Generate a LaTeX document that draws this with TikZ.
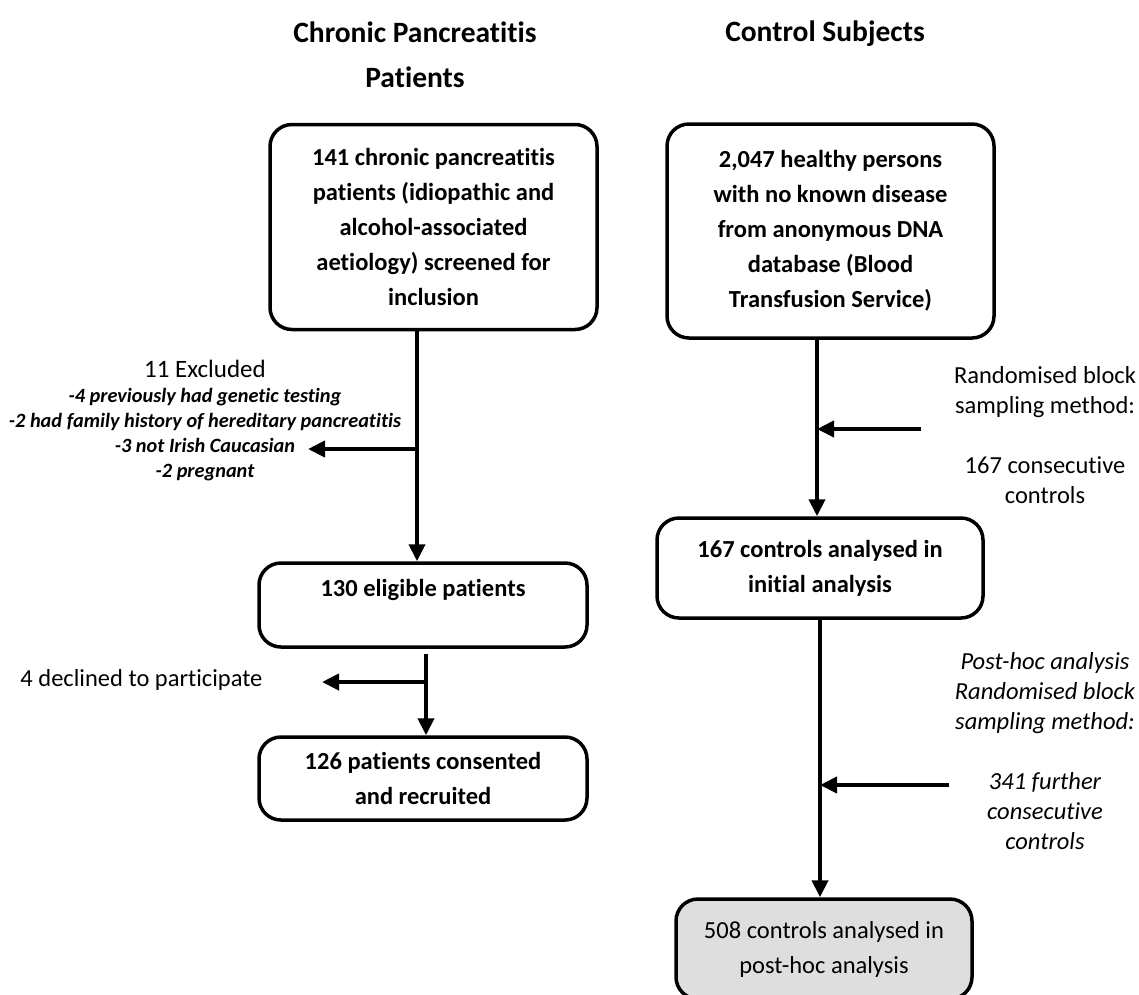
\documentclass[tikz,border=0pt]{standalone}
\usepackage{fontspec}
\setmainfont{Carlito}[Ligatures=NoCommon]
\usetikzlibrary{arrows.meta,calc}
\tikzset{
	stagebox/.style={draw, line width=3.5pt, rounded corners=22pt, align=center,
			inner sep=0pt, font=\bfseries\fontsize{24.5}{35}\selectfont},
	flow/.style={line width=4pt, -{Triangle[length=17pt,width=16pt]}},
	heading/.style={align=center, font=\bfseries\fontsize{29.5}{45}\selectfont},
	note/.style={align=center, font=\fontsize{24.5}{30}\selectfont}
}

\begin{document}
\begin{tikzpicture}[x=1pt,y=-1pt]
	\useasboundingbox (0,0) rectangle (1139,994);

	% column headings
	\node[heading] (hcp) at (415,55) {Chronic Pancreatitis\\Patients};
	\node[heading] (hcs) at (825,34) {Control Subjects};

	% patients
	\node[stagebox, minimum width=327pt, minimum height=205pt] (cp) at (433.5,227)
		{141 chronic pancreatitis\\patients (idiopathic and\\alcohol-associated\\aetiology) screened for\\inclusion};
	\node[stagebox, minimum width=328pt, minimum height=84pt] (elig) at (423,605)
		{130 eligible patients\\\mbox{}};
	\node[stagebox, minimum width=328pt, minimum height=83pt] (recr) at (423,778.5)
		{126 patients consented\\and recruited};

	% controls
	\node[stagebox, minimum width=327pt, minimum height=214pt] (hp) at (830.5,231)
		{2,047 healthy persons\\with no known disease\\from anonymous DNA\\database (Blood\\Transfusion Service)};
	\node[stagebox, minimum width=326pt, minimum height=100pt] (init) at (820,568)
		{167 controls analysed in\\initial analysis};
	\node[stagebox, minimum width=296pt, minimum height=100pt, fill=black!13,
		font=\fontsize{24.5}{35}\selectfont] (post) at (824,949)
		{508 controls analysed in\\post-hoc analysis};

	% side notes
	\node[align=center, font=\bfseries\itshape\fontsize{20.3}{25}\selectfont] (excl) at (205,421)
		{{\normalfont\fontsize{25}{25}\selectfont 11 Excluded}\\-4 previously had genetic testing\\-2 had family history of hereditary pancreatitis\\-3 not Irish Caucasian\\-2 pregnant};
	\node[note, anchor=east] (decl) at (266,680) {4 declined to participate};
	\node[note] (rbs) at (1045,435) {Randomised block\\sampling method:\\[30pt]167 consecutive\\controls};
	\node[note, font=\itshape\fontsize{24.5}{30}\selectfont] (phs) at (1045,751)
		{Post-hoc analysis\\Randomised block\\sampling method:\\[30pt]341 further\\consecutive\\controls};

	% patient flow
	\coordinate (cpx) at (417,0);
	\coordinate (eligx) at (426,0);
	\draw[flow] (cp.south -| cpx) -- (elig.north -| cpx);
	\coordinate (exfrom) at (417,449);
	\coordinate (exto) at (308,449);
	\draw[flow] (exfrom) -- (exto);
	\draw[flow] ($(elig.south -| eligx)+(0,5)$) -- (recr.north -| eligx);
	\coordinate (dcfrom) at (426,682);
	\coordinate (dcto) at (322,682);
	\draw[flow] (dcfrom) -- (dcto);

	% control flow
	\coordinate (hpx) at (817,0);
	\coordinate (initx) at (820,0);
	\draw[flow] (hp.south -| hpx) -- (init.north -| hpx);
	\coordinate (rbfrom) at (921,429);
	\coordinate (rbto) at (817,429);
	\draw[flow] (rbfrom) -- (rbto);
	\draw[flow] (init.south -| initx) -- (post.north -| initx);
	\coordinate (phfrom) at (949,785);
	\coordinate (phto) at (820,785);
	\draw[flow] (phfrom) -- (phto);
\end{tikzpicture}
\end{document}
